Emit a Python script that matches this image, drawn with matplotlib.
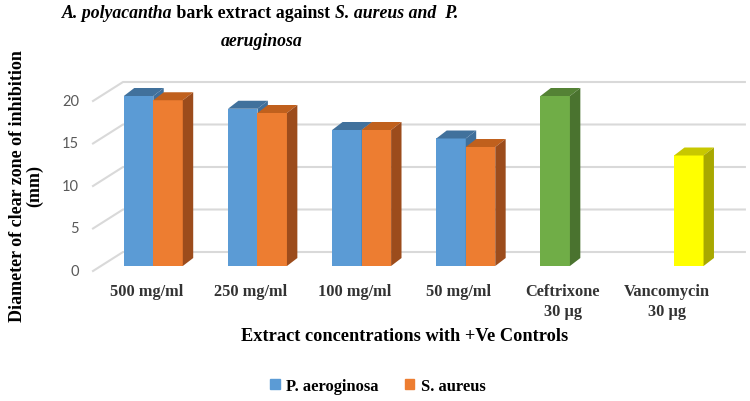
import matplotlib
matplotlib.use('Agg')
import matplotlib.pyplot as plt
from matplotlib.patches import Patch

# data
categories = ['500 mg/ml', '250 mg/ml', '100 mg/ml', '50 mg/ml',
              'Ceftrixone\n30 µg', 'Vancomycin\n30 µg']
p_aeroginosa = [20, 18.5, 16, 15]
s_aureus = [19.5, 18, 16, 14]
ceftrixone = 20   # +ve control, drawn in the P. aeroginosa slot
vancomycin = 13   # +ve control, drawn in the S. aureus slot
y_ticks = [0, 5, 10, 15, 20]

# faux 3D geometry (data units)
W = 0.283                  # bar width
DX, DY = 0.10, 0.94        # bar depth offset
WALL_DX, WALL_DY = -0.291, 1.647    # back wall start relative to bar front
FLOOR_DX, FLOOR_DY = -0.288, -2.235  # front edge of the floor lines
GRID = '#d9d9d9'

colors = {
    'blue': ('#5b9bd5', '#41719c', '#3f6f9b'),
    'orange': ('#ed7d31', '#c0601d', '#9c4c1c'),
    'green': ('#70ad47', '#548235', '#4a732f'),
    'yellow': ('#ffff00', '#c8c800', '#a8a800'),
}

serif = 'Liberation Serif'

fig = plt.figure(figsize=(7.5, 4.02), dpi=100)
ax = fig.add_axes([0.08, 0.2786, 0.92, 0.5721])
ax.set_xlim(-0.896, 5.729)
ax.set_ylim(-2.706, 24.35)
ax.axis('off')


def bar3d(x, h, c):
    front, top, side = colors[c]
    ax.bar(x, h, W, color=front, linewidth=0, zorder=2)
    x0, x1 = x - W / 2, x + W / 2
    ax.fill([x0, x1, x1 + DX, x0 + DX], [h, h, h + DY, h + DY],
            color=top, lw=0, zorder=2)
    ax.fill([x1, x1 + DX, x1 + DX, x1], [0, DY, h + DY, h],
            color=side, lw=0, zorder=2)


# gridlines on the back wall with the slanted floor part
for v in y_ticks:
    ax.plot([WALL_DX + FLOOR_DX, WALL_DX, 5.68],
            [v + WALL_DY + FLOOR_DY, v + WALL_DY, v + WALL_DY],
            color=GRID, lw=1.5, zorder=1)
    ax.text(WALL_DX + FLOOR_DX - 0.135, v + WALL_DY + FLOOR_DY, str(v),
            ha='right', va='center', fontsize=10.5, family='Lato',
            color='#595959')

for i in range(len(p_aeroginosa)):
    bar3d(i - W / 2, p_aeroginosa[i], 'blue')
    bar3d(i + W / 2, s_aureus[i], 'orange')
bar3d(4 - W / 2, ceftrixone, 'green')
bar3d(5 + W / 2, vancomycin, 'yellow')

for i, lab in enumerate(categories):
    ax.text(i - 0.067, -2.0, lab, ha='center', va='top', fontsize=11.8,
            family=serif, fontweight='bold', color='#333333', linespacing=1.3)

# axis titles
fig.text(405 / 750, 1 - 337 / 402, 'Extract concentrations with +Ve Controls',
         ha='center', va='center', fontsize=13.2, family=serif,
         fontweight='bold')
fig.text(26 / 750, 1 - 186 / 402, 'Diameter of clear zone of inhibition\n(mm)',
         ha='center', va='center', rotation=90, fontsize=13, family=serif,
         fontweight='bold', linespacing=1.0, multialignment='center')


# title with mixed italic / upright runs
def draw_runs(runs, xc, yc, size):
    r = fig.canvas.get_renderer()
    texts = []
    for s, style in runs:
        t = fig.text(0, yc, s, fontsize=size, family=serif, fontweight='bold',
                     style=style, va='center', ha='left')
        texts.append(t)
    widths = [t.get_window_extent(r).width for t in texts]
    x = xc * fig.bbox.width - sum(widths) / 2
    for t, w in zip(texts, widths):
        t.set_x(x / fig.bbox.width)
        x += w


draw_runs([('A. polyacantha', 'italic'), (' bark extract against ', 'normal'),
           ('S. aureus and  P.', 'italic')], 260 / 750, 1 - 14 / 402, 12.8)
draw_runs([('aeruginosa', 'italic')], 262 / 750, 1 - 42 / 402, 12.8)

handles = [Patch(color=colors['blue'][0], label='P. aeroginosa'),
           Patch(color=colors['orange'][0], label='S. aureus')]
fig.legend(handles=handles, loc='center', bbox_to_anchor=(0.504, 1 - 387 / 402),
           ncol=2, frameon=False, handlelength=0.55, handleheight=0.55,
           handletextpad=0.4, columnspacing=1.6,
           prop={'family': serif, 'weight': 'bold', 'size': 11.9})

fig.savefig('out.png', dpi=100)
